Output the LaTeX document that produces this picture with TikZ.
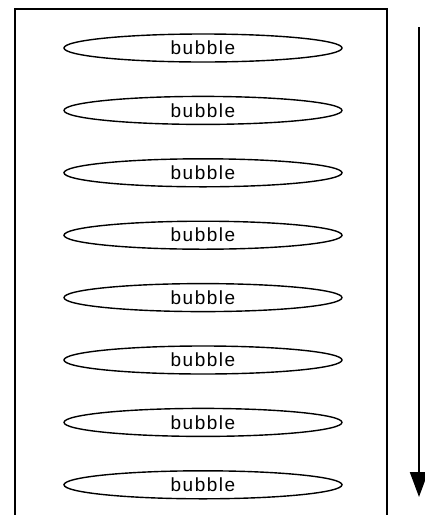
\documentclass[tikz,border=0pt]{standalone}
\usepackage{fontspec}
\setmainfont{Liberation Sans}
\newfontfamily\bubblefont[LetterSpace=8]{Liberation Sans}
\usetikzlibrary{shapes.geometric, arrows.meta, positioning}

\begin{document}
\begin{tikzpicture}[
        x=1pt, y=-1pt,
        % Styles
        bubblebox/.style={ellipse, draw, line width=1.4pt, minimum width=278pt, minimum height=28pt, inner sep=0pt, font=\bubblefont\fontsize{19}{19}\selectfont},
        % Cadre ouvert en bas
        framebox/.style={line width=1.3pt},
        % Flèche
        flow/.style={-{Triangle[length=25pt, width=18pt]}, line width=2pt},
        node distance=33pt
    ]
    \useasboundingbox (0,0) rectangle (424,515);

    % --- BULLES ---
    \node[bubblebox] (b1) at (203,48) {bubble};
    \foreach \i [count=\j from 1] in {2,...,8}
        \node[bubblebox, below=of b\j] (b\i) {bubble};

    % --- CADRE ---
    \coordinate (fbl) at (15,520);
    \coordinate (ftr) at (387,9);
    \coordinate (fbr) at (387,520);
    \draw[framebox] (fbl) |- (ftr) -- (fbr);

    % --- FLÈCHE ---
    \coordinate (atop) at (419,27);
    \coordinate (abot) at (419,497);
    \draw[flow] (atop) -- (abot);

\end{tikzpicture}
\end{document}
